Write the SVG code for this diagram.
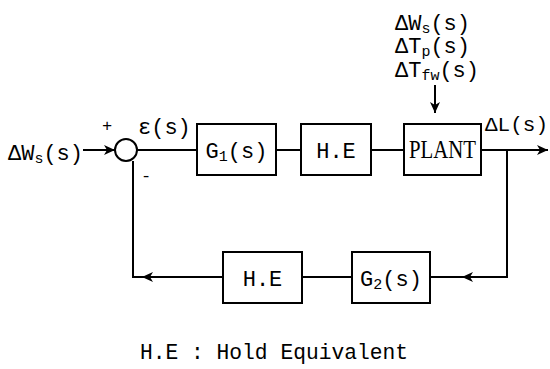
<svg xmlns="http://www.w3.org/2000/svg" width="550" height="369" viewBox="0 0 550 369">
<style>
.box{fill:#fff;stroke:#000;stroke-width:2}
.ln{fill:none;stroke:#000;stroke-width:2}
.t{font-family:"Liberation Mono","DejaVu Sans Mono",monospace;font-size:22px;fill:#000}
.sub{font-size:15px}
.pl{font-family:"Liberation Serif",serif;font-size:25px;fill:#000}
</style>
<defs>
<marker id="ah" markerUnits="userSpaceOnUse" markerWidth="12" markerHeight="10" refX="11" refY="5" orient="auto">
<path d="M0,0 L11,5 L0,10 L3,5 z" fill="#000"/>
</marker>
</defs>
<rect width="550" height="369" fill="#fff"/>
<g id="connectors">
<line class="ln" x1="83" y1="150" x2="115" y2="150" marker-end="url(#ah)"/>
<line class="ln" x1="137" y1="150" x2="197" y2="150"/>
<line class="ln" x1="276" y1="150" x2="301" y2="150"/>
<line class="ln" x1="371" y1="150" x2="404" y2="150"/>
<line class="ln" x1="481" y1="150" x2="548" y2="150" marker-end="url(#ah)"/>
<line class="ln" x1="435" y1="85" x2="435" y2="113" marker-end="url(#ah)"/>
<polyline class="ln" points="507,150 507,277 462,277" marker-end="url(#ah)"/>
<line class="ln" x1="464" y1="277" x2="430" y2="277"/>
<line class="ln" x1="352" y1="277" x2="302" y2="277"/>
<line class="ln" x1="223" y1="277" x2="142" y2="277" marker-end="url(#ah)"/>
<polyline class="ln" points="144,277 133,277 133,161"/>
</g>
<g id="sum">
<circle cx="126" cy="150" r="11" class="box"/>
<text class="t" x="102" y="131" style="font-size:17px">+</text>
<text class="t" x="141" y="181" style="font-size:17px">-</text>
</g>
<g id="input">
<text class="t" x="8" y="160">ΔW<tspan class="sub" dy="3">s</tspan><tspan dy="-3">(s)</tspan></text>
</g>
<g id="error">
<text class="t" x="138" y="134">ε(s)</text>
</g>
<g id="G1">
<rect class="box" x="197" y="124" width="79" height="51"/>
<text class="t" x="236.5" y="158" text-anchor="middle">G<tspan class="sub" dy="3">1</tspan><tspan dy="-3">(s)</tspan></text>
</g>
<g id="HE1">
<rect class="box" x="301" y="124" width="70" height="51"/>
<text class="t" x="336" y="158" text-anchor="middle">H.E</text>
</g>
<g id="plant">
<rect class="box" x="404" y="124" width="77" height="51"/>
<text class="pl" x="442.5" y="158" text-anchor="middle" textLength="67" lengthAdjust="spacingAndGlyphs">PLANT</text>
</g>
<g id="disturbances">
<text class="t" x="395" y="30">ΔW<tspan class="sub" dy="3">s</tspan><tspan dy="-3">(s)</tspan></text>
<text class="t" x="395" y="53">ΔT<tspan class="sub" dy="3">p</tspan><tspan dy="-3">(s)</tspan></text>
<text class="t" x="395" y="77">ΔT<tspan class="sub" dy="3">fw</tspan><tspan dy="-3">(s)</tspan></text>
</g>
<g id="output">
<text class="t" x="485" y="131" style="font-size:21px">ΔL(s)</text>
</g>
<g id="G2">
<rect class="box" x="352" y="252" width="78" height="51"/>
<text class="t" x="391" y="286" text-anchor="middle">G<tspan class="sub" dy="3">2</tspan><tspan dy="-3">(s)</tspan></text>
</g>
<g id="HE2">
<rect class="box" x="223" y="252" width="79" height="51"/>
<text class="t" x="262.5" y="286" text-anchor="middle">H.E</text>
</g>
<g id="legend">
<text class="t" x="140" y="359" textLength="268" lengthAdjust="spacingAndGlyphs">H.E : Hold Equivalent</text>
</g>
</svg>
